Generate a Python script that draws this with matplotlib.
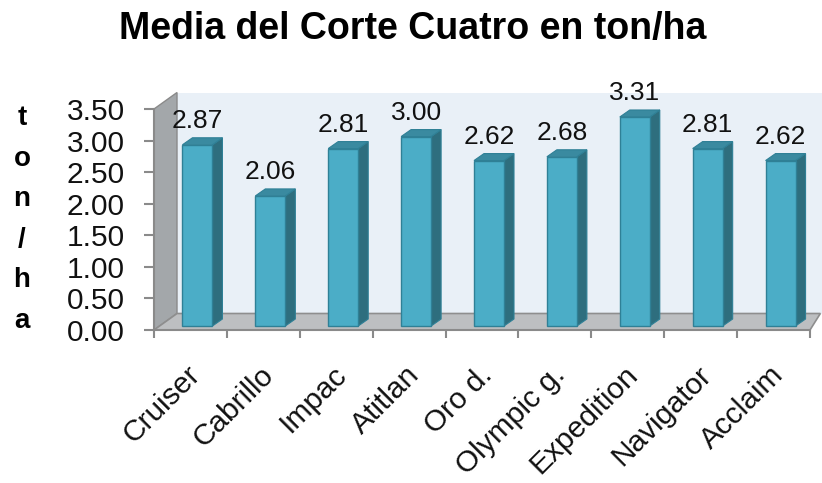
import matplotlib
matplotlib.use("Agg")
import matplotlib.pyplot as plt
from matplotlib.patches import Polygon
import matplotlib.transforms as mtrans

categories = ["Cruiser", "Cabrillo", "Impac", "Atitlan", "Oro d.",
              "Olympic g.", "Expedition", "Navigator", "Acclaim"]
values = [2.87, 2.06, 2.81, 3.00, 2.62, 2.68, 3.31, 2.81, 2.62]
yticks = [0.0, 0.5, 1.0, 1.5, 2.0, 2.5, 3.0, 3.5]
ytick_labels = ["0.00", "0.50", "1.00", "1.50", "2.00", "2.50", "3.00", "3.50"]
title = "Media del Corte Cuatro en ton/ha"
ylabel_letters = ["t", "o", "n", "/", "h", "a"]

plt.rcParams['font.family'] = ['Liberation Sans', 'DejaVu Sans']

W, H = 822, 483
fig = plt.figure(figsize=(W / 100, H / 100), dpi=100)
fig.patch.set_facecolor("white")

x0, x1, yb, yt = 154, 810, 330, 109
ax = fig.add_axes([x0 / W, (H - yb) / H, (x1 - x0) / W, (yb - yt) / H])
n = len(categories)
ymax = yticks[-1]
ax.set_xlim(0, n)
ax.set_ylim(0, ymax)
ax.patch.set_visible(False)

px = n / (x1 - x0)
py = ymax / (yb - yt)
DX, DY = 23 * px, 16.5 * py

# walls and floor
back = Polygon([(DX, DY), (n + DX, DY), (n + DX, ymax + DY), (DX, ymax + DY)],
               closed=True, facecolor="#E9F0F7", edgecolor="none", clip_on=False, zorder=0)
side = Polygon([(0, 0), (DX, DY), (DX, ymax + DY), (0, ymax)],
               closed=True, facecolor="#A3A7AA", edgecolor="#8A8A8A", lw=1, clip_on=False, zorder=1)
floor = Polygon([(0, 0), (n, 0), (n + DX * 0.45, DY), (DX, DY)],
                closed=True, facecolor="#BDBFC1", edgecolor="#8E8E8E", lw=1.2, clip_on=False, zorder=1)
for p in (back, side, floor):
    ax.add_patch(p)

# bars (pseudo 3D)
bw = 30 * px
ox, oy = 7 * px, 4 * py
ddx, ddy = 10 * px, 7 * py
front_col, side_col, top_col, edge_col = "#4BADC7", "#2E6E7E", "#3A8AA0", "#2F8096"
centers = [i + 0.5 + ox for i in range(n)]
ax.bar(centers, values, width=bw, bottom=oy, color=front_col,
       edgecolor=edge_col, lw=1, zorder=5, clip_on=False)
for c, v in zip(centers, values):
    xl, xr = c - bw / 2, c + bw / 2
    top = oy + v
    ax.add_patch(Polygon([(xr, oy), (xr + ddx, oy + ddy), (xr + ddx, top + ddy), (xr, top)],
                         closed=True, facecolor=side_col, edgecolor=edge_col, lw=0.8,
                         zorder=4, clip_on=False))
    ax.add_patch(Polygon([(xl, top), (xr, top), (xr + ddx, top + ddy), (xl + ddx, top + ddy)],
                         closed=True, facecolor=top_col, edgecolor=edge_col, lw=0.8,
                         zorder=4, clip_on=False))
    ax.annotate(f"{v:.2f}", xy=(c, top + ddy), xytext=(0, 7), textcoords="offset points",
                ha="center", va="baseline", fontsize=19, color="#111111", zorder=6,
                annotation_clip=False)

# axes styling
for s in ("top", "right"):
    ax.spines[s].set_visible(False)
for s in ("left", "bottom"):
    ax.spines[s].set_color("#8A8A8A")
    ax.spines[s].set_linewidth(1.5)
    ax.spines[s].set_zorder(3)

ax.set_yticks(yticks)
ax.set_yticklabels(ytick_labels)
ax.tick_params(axis="y", length=7, width=1.5, color="#8A8A8A", pad=14,
               labelsize=21.5, labelcolor="#111111")

ax.set_xticks(range(n + 1))
ax.set_xticklabels([])
ax.tick_params(axis="x", which="major", length=6, width=1.5, color="#8A8A8A")
ax.set_xticks([i + 0.5 for i in range(n)], minor=True)
ax.set_xticklabels(categories, minor=True, rotation=45, ha="right",
                   rotation_mode="anchor", fontsize=21.5, color="#111111")
ax.tick_params(axis="x", which="minor", length=0, pad=22)
off = mtrans.ScaledTranslation(-4 / 100, 0, fig.dpi_scale_trans)
for lab in ax.get_xticklabels(minor=True):
    lab.set_transform(lab.get_transform() + off)

# title and vertical y label
fig.text(413 / W, 1 - 39 / H, title, ha="center", va="baseline",
         fontsize=27, fontweight="bold", color="#000000")
for k, ch in enumerate(ylabel_letters):
    fig.text(22 / W, 1 - (125 + 40.6 * k) / H, ch, ha="center", va="baseline",
             fontsize=20, fontweight="bold", color="#000000")

fig.savefig("out.png", dpi=100, facecolor="white")
